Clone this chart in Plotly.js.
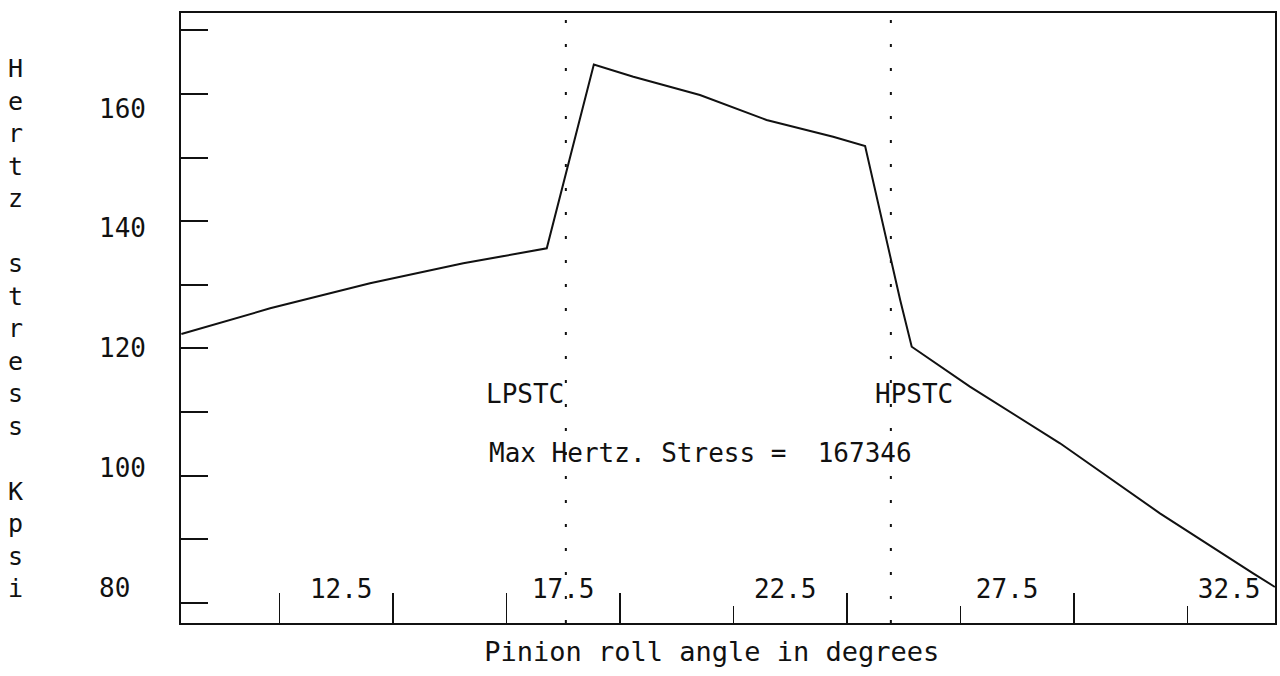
<!DOCTYPE html>
<html>
<head>
<meta charset="utf-8">
<script src="https://cdn.plot.ly/plotly-3.0.1.min.js"></script>
<style>
  html, body { margin: 0; padding: 0; background: #ffffff; }
  #chart { width: 1280px; height: 676px; }
</style>
</head>
<body>
<div id="chart"></div>
<script>
// ---- data ----
const rollAngle   = [8.90, 10.90, 13.15, 15.25, 17.13, 18.19, 19.08, 20.58, 22.08, 23.58, 24.30, 25.09, 25.35, 26.66, 28.69, 30.94, 33.04, 33.53];
const hertzStress = [122.35, 126.64, 130.82, 134.16, 136.66, 167.35, 165.31, 162.25, 158.08, 155.29, 153.74, 128.03, 120.23, 113.56, 104.11, 92.42, 82.40, 80.12];

const xLabelVals = [12.5, 17.5, 22.5, 27.5, 32.5];
const xLabelText = ['12.5', '17.5', '22.5', '27.5', '32.5'];
const yLabelVals = [80, 100, 120, 140, 160];
const yLabelText = ['80&nbsp;', '100', '120', '140', '160'];

// tick-mark divisions of the frame (unlabelled)
const xMajorDivs = [0, 1, 2, 3, 5, 7];
const xMinorDivs = [4, 6, 8];
const yDivs = [0, 1, 2, 3, 4, 5, 6, 7, 8, 9];

const lpstcAngle = 17.56;
const hpstcAngle = 24.88;
const maxStress = 167346;

const xTitle = 'Pinion roll angle in degrees';
const yTitle = 'Hertz stress Kpsi';

// ---- build ----
const ink = '#111111';
const fontFam = '"DejaVu Sans Mono", "Liberation Mono", monospace';

const traces = [
  {
    type: 'scatter', mode: 'lines',
    x: rollAngle, y: hertzStress,
    line: { color: ink, width: 2 },
    hoverinfo: 'skip', xaxis: 'x', yaxis: 'y'
  },
  {
    type: 'scatter', mode: 'lines',
    x: [], y: [], xaxis: 'x2', yaxis: 'y2', hoverinfo: 'skip'
  }
];

const yTitleStacked = yTitle.split('').map(c => c === ' ' ? '&nbsp;' : c).join('<br>');

const layout = {
  width: 1280, height: 676,
  margin: { l: 181, r: 5, t: 13, b: 53, pad: 0 },
  paper_bgcolor: '#ffffff', plot_bgcolor: '#ffffff',
  showlegend: false,
  font: { family: fontFam, size: 26, color: ink },
  xaxis: {
    range: [8.892, 33.532],
    anchor: 'free', position: 0.0852,
    tickmode: 'array', tickvals: xLabelVals, ticktext: xLabelText,
    ticks: '', showline: false, showgrid: false, zeroline: false,
    tickfont: { family: fontFam, size: 26, color: ink },
    fixedrange: true
  },
  yaxis: {
    range: [74.11, 175.94],
    tickmode: 'array', tickvals: yLabelVals, ticktext: yLabelText,
    ticks: '', showline: false, showgrid: false, zeroline: false,
    ticklabelstandoff: 34,
    tickfont: { family: fontFam, size: 26, color: ink },
    fixedrange: true
  },
  xaxis2: {
    overlaying: 'x', anchor: 'y2', side: 'bottom',
    range: [-0.866, 8.773],
    tickmode: 'array', tickvals: xMajorDivs,
    ticks: 'inside', ticklen: 30, tickwidth: 1.5, tickcolor: ink,
    minor: { tickmode: 'array', tickvals: xMinorDivs, ticks: 'inside', ticklen: 17, tickwidth: 1.5, tickcolor: ink },
    showticklabels: false,
    showline: true, mirror: true, linecolor: ink, linewidth: 2,
    showgrid: false, zeroline: false,
    title: { text: xTitle + '&nbsp;&nbsp;', font: { family: fontFam, size: 27, color: ink }, standoff: 18 },
    fixedrange: true
  },
  yaxis2: {
    overlaying: 'y', anchor: 'x2', side: 'left',
    range: [-0.319, 9.272],
    tickmode: 'array', tickvals: yDivs,
    ticks: 'inside', ticklen: 27, tickwidth: 2, tickcolor: ink,
    showticklabels: false,
    showline: true, mirror: true, linecolor: ink, linewidth: 2,
    showgrid: false, zeroline: false,
    fixedrange: true
  },
  shapes: [
    { type: 'line', xref: 'x', yref: 'paper', x0: lpstcAngle, x1: lpstcAngle, y0: 0, y1: 1,
      line: { color: ink, width: 2, dash: '3px,21px' } },
    { type: 'line', xref: 'x', yref: 'paper', x0: hpstcAngle, x1: hpstcAngle, y0: 0, y1: 1,
      line: { color: ink, width: 2, dash: '3px,21px' } }
  ],
  annotations: [
    { text: 'LPSTC', xref: 'x', yref: 'y', x: lpstcAngle, y: 112.34,
      xanchor: 'right', yanchor: 'middle', showarrow: false,
      font: { family: fontFam, size: 26, color: ink } },
    { text: 'HPSTC', xref: 'x', yref: 'y', x: hpstcAngle, y: 112.34, xshift: -18,
      xanchor: 'left', yanchor: 'middle', showarrow: false,
      font: { family: fontFam, size: 26, color: ink } },
    { text: 'Max Hertz. Stress =&nbsp; ' + maxStress, xref: 'x', yref: 'y', x: 15.79, y: 102.49,
      xanchor: 'left', yanchor: 'middle', showarrow: false,
      font: { family: fontFam, size: 26, color: ink } },
    { text: yTitleStacked, xref: 'paper', yref: 'paper', x: 0, y: 0.4828, xshift: -166,
      xanchor: 'center', yanchor: 'middle', showarrow: false, align: 'center',
      font: { family: fontFam, size: 25, color: ink } }
  ]
};

Plotly.newPlot('chart', traces, layout, { staticPlot: true, displayModeBar: false });
</script>
</body>
</html>
